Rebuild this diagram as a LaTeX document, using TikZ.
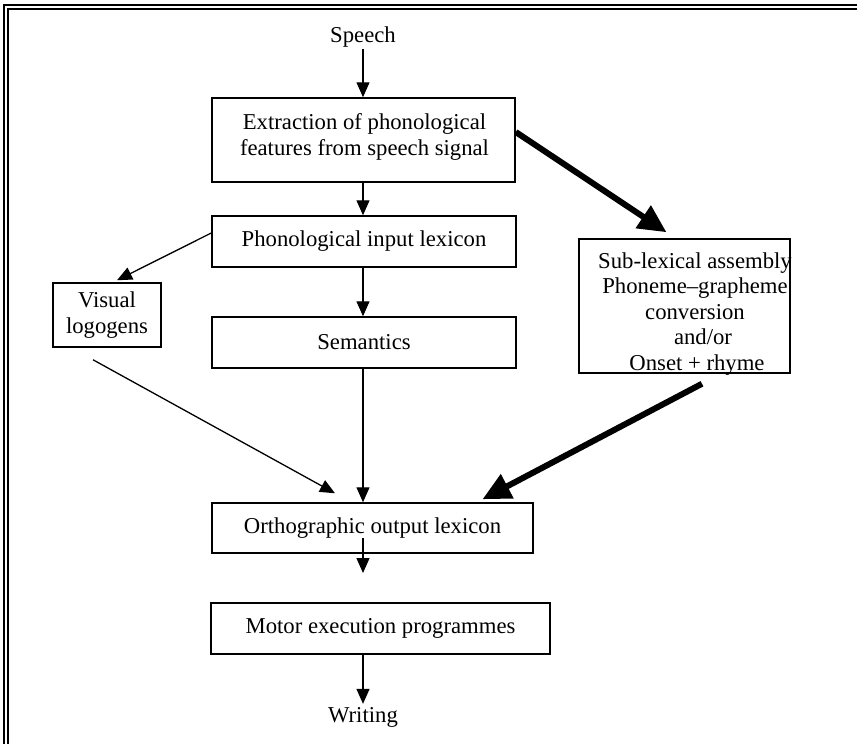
\documentclass[tikz,border=0pt]{standalone}
\usepackage{fontspec}
\setmainfont{Liberation Serif}
\usetikzlibrary{arrows.meta,calc}
\begin{document}
\begin{tikzpicture}[x=1pt,y=-1pt,
  txt/.style={font=\fontsize{22.7}{25.5}\selectfont,align=center},
  box/.style={draw,line width=1.5pt,inner sep=0pt,txt},
  thinarrow/.style={line width=1.3pt,-{Triangle[length=15pt,width=13pt]}},
  thickarrow/.style={line width=6pt,-{Triangle[length=28pt,width=26pt]}},
  rule/.style={line width=1.2pt}]
\useasboundingbox (0,0) rectangle (857,744);

% double rule along the top and left edges
\draw[rule] (4,744) -- (4,5) -- (857,5);
\draw[rule] (8,744) -- (8,9) -- (857,9);

\coordinate (spine) at (363,0);

% nodes
\node[txt,inner sep=2pt] (speech) at (363,37) {Speech};
\node[box,minimum width=303pt,minimum height=84pt] (ext) at (363.5,140) {};
\node[txt,inner sep=0pt] (exttxt) at (364.5,137)
  {Extraction of phonological\\features from speech signal};
\node[box,minimum width=304pt,minimum height=51pt] (phon) at (364,241.5)
  {Phonological input lexicon};
\node[box,minimum width=304pt,minimum height=51pt] (sem) at (364,342.5)
  {Semantics};
\node[box,minimum width=108pt,minimum height=64pt] (vis) at (107,315)
  {Visual\\logogens};
\node[box,minimum width=211pt,minimum height=134pt] (sub) at (684.5,306) {};
\node[txt,inner sep=0pt] (subtxt) at (695,314)
  {Sub-lexical assembly\\Phoneme--grapheme\hspace*{6pt}\\conversion\hspace*{10pt}\\\hspace*{16pt}and/or\\\hspace*{4pt}Onset + rhyme};
\node[box,minimum width=321pt,minimum height=50pt] (orth) at (372.5,528)
  {Orthographic output lexicon};
\node[box,minimum width=339pt,minimum height=51pt] (motor) at (380.5,628.5)
  {Motor execution programmes};
\node[txt,inner sep=3pt] (writing) at (363,717) {Writing};
\coordinate (orthout) at (363,573);

% connectors
\draw[thinarrow] (speech.south) -- (speech.south |- ext.north);
\draw[thinarrow] (ext.south -| spine) -- (phon.north -| spine);
\draw[thinarrow] (phon.south -| spine) -- (sem.north -| spine);
\draw[thinarrow] ($(phon.west)+(0,-8.5)$) -- ($(vis.north)+(10,-2)$);
\draw[thinarrow] ($(vis.south)+(-14,12)$) -- ($(orth.north)+(-37.5,-9)$);
\draw[thinarrow] (sem.south -| spine) -- (orth.north -| spine);
\draw[thinarrow] ($(orth.south -| spine)+(0,-16)$) -- (orthout);
\draw[thinarrow] (motor.south -| spine) -- (writing.north);
\draw[thickarrow] ($(ext.east)+(0,-8)$) -- ($(sub.north)+(-18,-6)$);
\draw[thickarrow] ($(sub.south)+(17.5,10)$) -- ($(orth.north)+(110,-3)$);
\end{tikzpicture}
\end{document}
